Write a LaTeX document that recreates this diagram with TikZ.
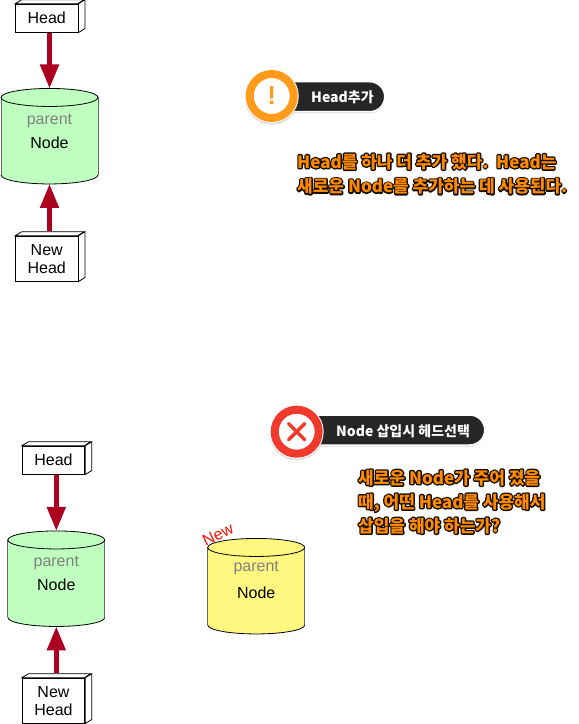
\documentclass[tikz,border=0pt]{standalone}
\usepackage{fontspec}
\setmainfont{Liberation Sans}
\newfontfamily\kor{Noto Sans CJK KR}
\usetikzlibrary{arrows.meta, shadows, calc}
\definecolor{arrowred}{HTML}{AD0020}
\definecolor{pilldark}{HTML}{262626}
\definecolor{ringorange}{HTML}{FF9A1A}
\definecolor{ringred}{HTML}{F03A2E}
\definecolor{glow}{HTML}{FF8A00}
\newcommand{\glowline}[1]{\leavevmode\rlap{\special{pdf:code q 2 Tr 2.8 w 1 j 1 J 0.08 0.05 0 RG 0.08 0.05 0 rg}#1\special{pdf:code Q}}\textcolor{glow}{#1}}
\tikzset{
    txt/.style={font=\fontsize{16}{18}\selectfont, inner sep=0pt, align=center},
    headbox/.style={draw, fill=white, txt, minimum width=62.5pt, line width=0.8pt,
        append after command={\pgfextra{\let\boxname\tikzlastnode
            \draw[line width=0.8pt, fill=white] (\boxname.north west) -- ++(6.5,-4) -- ++(62.5,0) -- ++(-6.5,4) -- cycle;
            \draw[line width=0.8pt, fill=white] (\boxname.north east) -- ++(6.5,-4) -- ($(\boxname.south east)+(6.5pt,4pt)$) -- (\boxname.south east) -- cycle;
        }}},
    store/.style={minimum width=97pt, minimum height=95.5pt, inner sep=0pt, outer sep=0pt,
        append after command={\pgfextra{\let\boxname\tikzlastnode
            \coordinate (wt) at ($(\boxname.north west)+(0,9)$);
            \coordinate (et) at ($(\boxname.north east)+(0,9)$);
            \coordinate (wb) at ($(\boxname.south west)+(0,-9)$);
            \coordinate (eb) at ($(\boxname.south east)+(0,-9)$);
            \fill[#1] (wt) -- (wb) arc[start angle=180, end angle=360, x radius=48.5pt, y radius=9pt]
                -- (et) arc[start angle=0, end angle=180, x radius=48.5pt, y radius=9pt] -- cycle;
            \draw[black!60, line width=1pt] (wt) -- (wb) (et) -- (eb);
            \draw[line width=0.8pt] (wt) arc[start angle=180, end angle=-180, x radius=48.5pt, y radius=9pt];
            \draw[line width=0.8pt] (wb) arc[start angle=180, end angle=360, x radius=48.5pt, y radius=9pt];
        }}},
    feed/.style={arrowred, line width=5pt, -{Triangle[length=24pt, width=18pt]}},
    pill/.style={draw=white, line width=1.5pt, fill=pilldark, rounded corners=15pt, minimum height=30pt,
        drop shadow={shadow xshift=0pt, shadow yshift=-1.5pt, opacity=0.3}},
    pilltxt/.style={white, inner sep=0pt, font=\fontsize{14}{16}\selectfont\kor\bfseries},
    ring/.style={circle, draw=#1, fill=white, line width=8pt, minimum size=44pt, inner sep=0pt},
    halo/.style={circle, fill=white, minimum size=54pt, inner sep=0pt,
        drop shadow={shadow xshift=0pt, shadow yshift=-1.5pt, opacity=0.3}},
    note/.style={inner sep=0pt, anchor=north west, align=left, font=\fontsize{17}{24.5}\selectfont\kor\bfseries},
}
\begin{document}
\begin{tikzpicture}[x=1pt, y=-1pt]
\useasboundingbox (0,0) rectangle (579,724);

% Upper stack
\node[headbox, minimum height=28pt] (headA) at (46.75,18.2) {Head};
\node[store=green!25!white] (nodeA) at (49.5,136.2) {};
\node[txt, gray] (parentA) at (49.5,121) {parent};
\node[txt] (labelA) at (49.5,143) {Node};
\node[headbox, minimum height=45pt] (newA) at (46.75,258.7) {New\\Head};
\draw[feed] (headA.south -| nodeA.north) -- (nodeA.north);
\draw[feed, shorten <=4.5pt] (newA.north -| nodeA.south) -- (nodeA.south);

% Lower stack
\node[headbox, minimum height=28pt] (headB) at (53.5,460.2) {Head};
\node[store=green!25!white] (nodeB) at (56.3,578.7) {};
\node[txt, gray] (parentB) at (56.3,563) {parent};
\node[txt] (labelB) at (56.3,585) {Node};
\node[headbox, minimum height=45pt] (newB) at (53.5,700.7) {New\\Head};
\draw[feed] (headB.south -| nodeB.north) -- (nodeB.north);
\draw[feed, shorten <=4.5pt] (newB.north -| nodeB.south) -- (nodeB.south);

% New node
\node[store=yellow!50!white] (nodeC) at (256.2,586.2) {};
\node[txt, gray] (parentC) at (256.2,568) {parent};
\node[txt] (labelC) at (256.2,593) {Node};
\node[txt, red!90!orange, rotate=26, font=\fontsize{16}{18}\selectfont] (newC) at (218,535) {New};

% Badges
\node[pill, minimum width=115pt, anchor=east] (pillA) at (385.5,96.7) {};
\node[pilltxt, anchor=west] (titleA) at (311,97.5) {Head추가};
\node[halo] (haloA) at (271.7,96) {};
\node[ring=ringorange] (ringA) at (271.7,96) {};
\node[inner sep=0pt, ringorange, font=\fontsize{26}{28}\selectfont\bfseries] (markA) at (271.7,95.5) {!};

\node[pill, minimum width=188pt, anchor=east] (pillB) at (485.5,430) {};
\node[pilltxt, anchor=west] (titleB) at (336,431.5) {Node 삽입시 헤드선택};
\node[halo] (haloB) at (296.7,431.7) {};
\node[ring=ringred] (ringB) at (296.7,431.7) {};
\draw[ringred, line width=3.5pt, line cap=round] (ringB.center) +(-8,-8) -- +(8,8) (ringB.center) +(-8,8) -- +(8,-8);

% Notes
\node[note] (noteA) at (297,153.5) {\glowline{Head를 하나 더 추가 했다.\ \ Head는}\\\glowline{새로운 Node를 추가하는 데 사용된다.}};
\node[note, font=\fontsize{17}{24}\selectfont\kor\bfseries] (noteB) at (358,469.5) {\glowline{새로운 Node가 주어 졌을}\\\glowline{때, 어떤 Head를 사용해서}\\\glowline{삽입을 해야 하는가?}};
\end{tikzpicture}
\end{document}
